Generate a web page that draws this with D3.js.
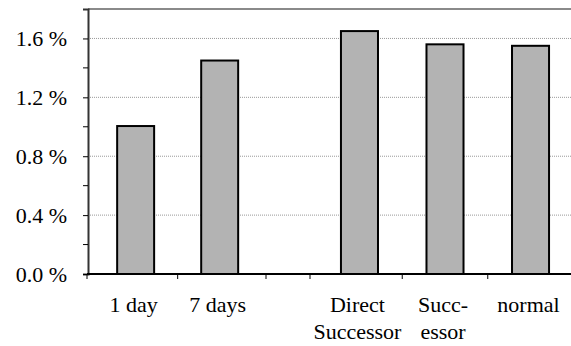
<!DOCTYPE html>
<html><head><meta charset="utf-8">
<script src="https://cdn.jsdelivr.net/npm/d3@7"></script>
<style>body{margin:0;background:#fff}svg{display:block}</style>
</head><body>
<svg id="c" width="571" height="346"></svg>
<script>
const groupA = ["1 day", "7 days"];
const groupB = ["Direct\nSuccessor", "Succ-\nessor", "normal"];
const valuesA = [1.005, 1.45];
const valuesB = [1.65, 1.56, 1.55];
const yTicks = [0, 0.4, 0.8, 1.2, 1.6];
const yMinor = [0.2, 0.6, 1.0, 1.4];

const FONT = '"Times New Roman", "Liberation Serif", Tinos, FreeSerif, "DejaVu Serif", serif';
const svg = d3.select("#c");
const mLeft = 88, mTop = 9, mBottom = 274;
const y = d3.scaleLinear().domain([0, 1.8]).range([mBottom, mTop]);
const xA = d3.scaleBand().domain(groupA).range([87, 266]).paddingInner(0.56).paddingOuter(0.345).align(0.52);
const xB = d3.scaleBand().domain(groupB).range([310, 580]).paddingInner(0.567).paddingOuter(0.362).align(0.5);

function serif(sel) {
  sel.attr("font-family", FONT).attr("font-size", 22)
    .style("font-family", FONT, "important").style("font-size", "22px", "important");
}

// gridlines
svg.append("g").selectAll("line").data(yTicks.filter(d => d > 0)).join("line")
  .attr("x1", mLeft).attr("x2", 571).attr("y1", d => y(d)).attr("y2", d => y(d))
  .attr("stroke", "#999").attr("stroke-width", 1).attr("stroke-dasharray", "1,1");

// top border
svg.append("line").attr("x1", mLeft).attr("x2", 571).attr("y1", mTop).attr("y2", mTop)
  .attr("stroke", "#8a8a8a").attr("stroke-width", 2);

// bars
function bars(scale, cats, vals) {
  svg.append("g").selectAll("rect").data(cats).join("rect")
    .attr("x", d => scale(d)).attr("width", scale.bandwidth())
    .attr("y", (d, i) => y(vals[i])).attr("height", (d, i) => y(0) - y(vals[i]))
    .attr("fill", "#b3b3b3").attr("stroke", "#000").attr("stroke-width", 2);
}
bars(xA, groupA, valuesA);
bars(xB, groupB, valuesB);

// y axis
const ya = svg.append("g").attr("transform", `translate(${mLeft},0)`)
  .call(d3.axisLeft(y).tickValues(yTicks).tickSize(5).tickPadding(16)
    .tickFormat(d => d3.format(".1f")(d) + " %"));
serif(ya);
ya.select(".domain").attr("stroke", "#333").attr("stroke-width", 2);
ya.selectAll(".tick line").attr("stroke", "#000");
ya.selectAll("text").call(serif).attr("fill", "#000");
svg.append("g").selectAll("line").data(yMinor).join("line")
  .attr("x1", mLeft - 5).attr("x2", mLeft).attr("y1", d => y(d)).attr("y2", d => y(d))
  .attr("stroke", "#000");

// x axis
svg.append("line").attr("x1", mLeft - 1).attr("x2", 571).attr("y1", mBottom).attr("y2", mBottom)
  .attr("stroke", "#000").attr("stroke-width", 2);
function xTicks(scale, cats, withEnd) {
  const step = scale.step();
  const inner = cats.slice(1).map(c => scale(c) - (step - scale.bandwidth()) / 2);
  const bounds = [scale.range()[0]].concat(inner).concat(withEnd ? [scale.range()[1]] : []);
  svg.append("g").selectAll("line").data(bounds).join("line")
    .attr("x1", d => d).attr("x2", d => d).attr("y1", mBottom).attr("y2", mBottom + 5)
    .attr("stroke", "#000");
  const t = svg.append("g").call(serif).selectAll("text").data(cats).join("text")
    .call(serif).attr("text-anchor", "middle").attr("fill", "#000");
  t.each(function(d) {
    const lines = d.split("\n");
    const cx = scale(d) + scale.bandwidth() / 2 - 2;
    d3.select(this).selectAll("tspan").data(lines).join("tspan")
      .attr("x", cx).attr("y", (l, i) => 312 + i * 26.5).text(l => l);
  });
}
xTicks(xA, groupA, true);
xTicks(xB, groupB, false);
</script>
</body></html>
